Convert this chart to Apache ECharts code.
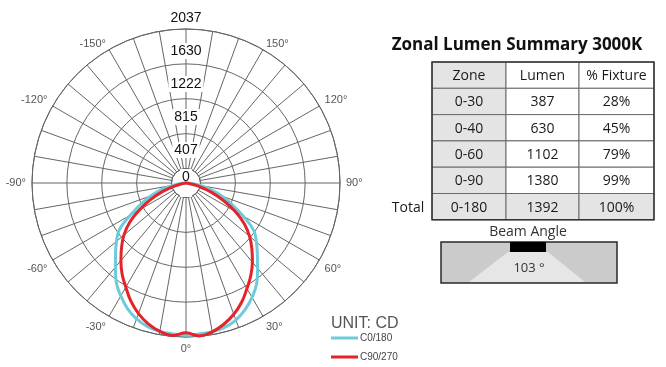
<!DOCTYPE html>
<html>
<head>
<meta charset="utf-8">
<script src="https://cdn.jsdelivr.net/npm/echarts@6/dist/echarts.min.js"></script>
<style>
  html, body { margin: 0; padding: 0; background: #fff; }
  #chart { width: 666px; height: 367px; }
</style>
</head>
<body>
<div id="chart"></div>
<script>
// Photometric polar plot (candela) with zonal lumen summary

// Vertical angles (deg): 0 = nadir, +/-90 = horizontal
const angles = [-90, -85, -80, -75, -70, -65, -60, -55, -50, -45, -40, -35, -30, -25, -20, -15, -10, -5,
  0, 5, 10, 15, 20, 25, 30, 35, 40, 45, 50, 55, 60, 65, 70, 75, 80, 85, 90];

// C0/180 plane intensities (cd)
const c0Values = [0, 60, 170, 305, 460, 610, 790, 1005, 1120, 1230, 1355, 1500, 1610, 1710, 1785, 1835, 1860, 1870,
  1880, 1870, 1865, 1845, 1800, 1725, 1630, 1520, 1375, 1245, 1135, 1020, 815, 625, 475, 315, 180, 65, 0];

// C90/270 plane intensities (cd)
const c90Values = [0, 10, 45, 150, 310, 480, 660, 850, 1000, 1125, 1250, 1375, 1485, 1610, 1715, 1800, 1860, 1890,
  1850, 1895, 1865, 1805, 1725, 1625, 1505, 1395, 1275, 1150, 1025, 880, 700, 510, 330, 165, 50, 10, 0];

// Radial scale labels (cd)
const radiusTicks = ['0', '407', '815', '1222', '1630', '2037'];
const radiusMax = 2037;

// Labelled angles on the outer ring
const angleTicks = [-150, -120, -90, -60, -30, 0, 30, 60, 90, 120, 150];

// Zonal lumen summary table
const tableTitle = 'Zonal Lumen Summary 3000K';
const tableHeader = ['Zone', 'Lumen', '% Fixture'];
const zones = ['0-30', '0-40', '0-60', '0-90', '0-180'];
const lumens = ['387', '630', '1102', '1380', '1392'];
const fixturePct = ['28%', '45%', '79%', '99%', '100%'];
const totalLabel = 'Total';

const beamAngle = '103 °';
const seriesNames = ['C0/180', 'C90/270'];
const seriesColors = ['#6dcbdc', '#e5232a'];

const chart = echarts.init(document.getElementById('chart'), null, { renderer: 'canvas' });

const center = [186, 183];
const tableFont = '"Open Sans", Lato, sans-serif';
const axisFont = '"Liberation Sans", Arial, sans-serif';

// Table drawing
const colX = [432, 506, 579, 654];
const rowTop = 62;
const rowH = 26.3;
const graphics = [];
const allRows = [tableHeader].concat(zones.map((z, i) => [z, lumens[i], fixturePct[i]]));
allRows.forEach((row, r) => {
  row.forEach((txt, c) => {
    const gray = c === 0 || r === allRows.length - 1;
    graphics.push({
      type: 'rect',
      shape: { x: colX[c], y: rowTop + r * rowH, width: colX[c + 1] - colX[c], height: rowH },
      style: { fill: gray ? '#e4e4e4' : '#ffffff', stroke: '#6a6a6a', lineWidth: 1 },
      z: 1
    });
    graphics.push({
      type: 'text',
      x: (colX[c] + colX[c + 1]) / 2,
      y: rowTop + r * rowH + rowH / 2 + 1,
      style: { text: txt, fill: '#1a1a1a', font: '14px ' + tableFont, align: 'center', verticalAlign: 'middle' },
      z: 3
    });
  });
});
graphics.push({
  type: 'rect',
  shape: { x: colX[0], y: rowTop, width: colX[3] - colX[0], height: rowH * allRows.length },
  style: { fill: 'none', stroke: '#333', lineWidth: 1.5 },
  z: 2
});
graphics.push({
  type: 'text', x: 408, y: rowTop + (allRows.length - 0.5) * rowH + 1,
  style: { text: totalLabel, fill: '#1a1a1a', font: '14px ' + tableFont, align: 'center', verticalAlign: 'middle' }
});
graphics.push({
  type: 'text', x: 517, y: 45,
  style: { text: tableTitle, fill: '#111', font: 'bold 17px ' + tableFont, align: 'center', verticalAlign: 'middle' }
});

// Beam angle diagram
graphics.push({
  type: 'text', x: 528, y: 232,
  style: { text: 'Beam Angle', fill: '#333', font: '14px ' + tableFont, align: 'center', verticalAlign: 'middle' }
});
graphics.push({
  type: 'rect', shape: { x: 441, y: 242, width: 176, height: 41 },
  style: { fill: '#cbcbcb', stroke: '#2a2a2a', lineWidth: 1.5 }, z: 1
});
graphics.push({
  type: 'polygon', shape: { points: [[508, 252], [548, 252], [585, 282], [469, 282]] },
  style: { fill: '#e6e6e6' }, z: 2
});
graphics.push({
  type: 'rect', shape: { x: 510, y: 242, width: 36, height: 10 },
  style: { fill: '#000' }, z: 3
});
graphics.push({
  type: 'text', x: 529, y: 268,
  style: { text: beamAngle, fill: '#333', font: '13px ' + tableFont, align: 'center', verticalAlign: 'middle' }, z: 4
});

// Upper angle labels sit a little closer to the ring
function angleLabel(v) {
  if (angleTicks.indexOf(v) < 0) return '';
  if (Math.abs(v) === 150) return '{a|' + v + '°}';
  if (Math.abs(v) === 120) return '{b|' + v + '°}';
  return v + '°';
}

const option = {
  backgroundColor: '#fff',
  animation: false,
  title: {
    text: 'UNIT: CD',
    left: 326, top: 311,
    textStyle: { fontFamily: axisFont, fontSize: 16, fontWeight: 'normal', color: '#555' }
  },
  legend: {
    orient: 'vertical',
    left: 331, top: 332, padding: 0,
    itemWidth: 27, itemHeight: 3, itemGap: 7,
    icon: 'rect',
    textStyle: { fontFamily: axisFont, fontSize: 10, color: '#444', lineHeight: 12, padding: [0, 0, 0, -3] },
    data: seriesNames
  },
  polar: [
    { center: center, radius: [14.5, 154] },
    { center: center, radius: 165 }
  ],
  angleAxis: [
    {
      polarIndex: 0, type: 'value', min: -180, max: 180, interval: 10,
      startAngle: 90, clockwise: false, z: 1,
      axisLine: { show: true, lineStyle: { color: '#666', width: 1 } },
      axisTick: { show: false },
      splitLine: { show: true, lineStyle: { color: '#666', width: 1 } },
      axisLabel: {
        margin: 6, fontFamily: axisFont, fontSize: 11, color: '#555',
        formatter: angleLabel,
        rich: {
          a: { fontFamily: axisFont, fontSize: 11, color: '#555', lineHeight: 1 },
          b: { fontFamily: axisFont, fontSize: 11, color: '#555', lineHeight: 6 }
        }
      }
    },
    {
      polarIndex: 1, type: 'value', min: -180, max: 180, interval: 10,
      startAngle: 90, clockwise: false, show: false
    }
  ],
  radiusAxis: [
    {
      polarIndex: 0, type: 'value', min: 0, max: 4, interval: 1, z: 1,
      axisLine: { show: false }, axisTick: { show: false }, axisLabel: { show: false },
      splitLine: { show: true, lineStyle: { color: '#666', width: 1 } }
    },
    {
      polarIndex: 1, type: 'value', min: 0, max: radiusMax, interval: radiusMax / 5, z: 3,
      axisLine: { show: false }, axisTick: { show: false }, splitLine: { show: false },
      axisLabel: {
        show: true, margin: 0, align: 'center', verticalAlign: 'middle',
        fontFamily: axisFont, fontSize: 14, color: '#111',
        backgroundColor: '#fff', padding: [1, 2],
        formatter: (v, i) => i === 0 ? '{z|' + radiusTicks[0] + '}' : radiusTicks[i],
        rich: { z: { fontFamily: axisFont, fontSize: 14, color: '#111', padding: [0, 0, 12, 0] } }
      }
    }
  ],
  series: [
    {
      name: seriesNames[0], type: 'line', coordinateSystem: 'polar', polarIndex: 1,
      smooth: 0.4, symbol: 'none', z: 5,
      lineStyle: { color: seriesColors[0], width: 3 },
      itemStyle: { color: seriesColors[0] },
      data: c0Values.map((v, i) => [v, angles[i]])
    },
    {
      name: seriesNames[1], type: 'line', coordinateSystem: 'polar', polarIndex: 1,
      smooth: 0.4, symbol: 'none', z: 6,
      lineStyle: { color: seriesColors[1], width: 3 },
      itemStyle: { color: seriesColors[1] },
      data: c90Values.map((v, i) => [v, angles[i]])
    }
  ],
  graphic: graphics
};

chart.setOption(option);
</script>
</body>
</html>
